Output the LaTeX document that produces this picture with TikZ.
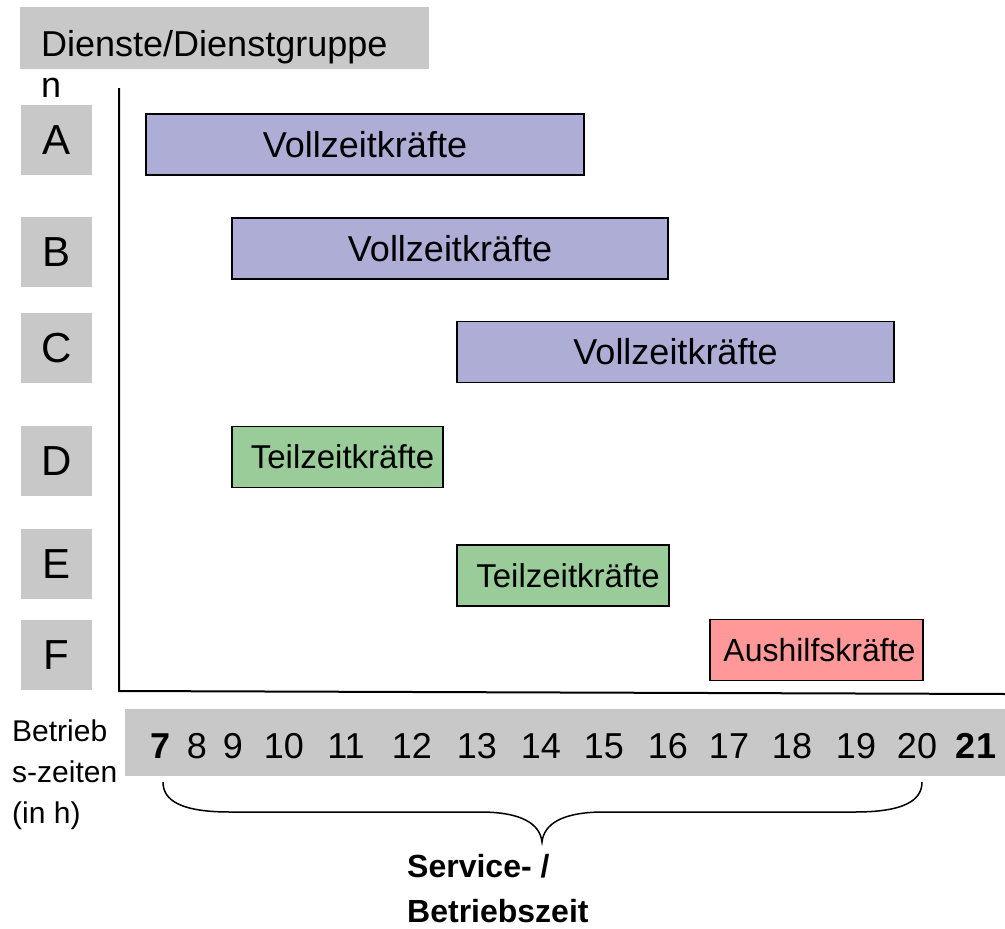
\documentclass[tikz,border=0pt]{standalone}
\usepackage{fontspec}
\setmainfont{Liberation Sans}
\definecolor{hdrgray}{RGB}{200,200,200}
\definecolor{vollblue}{RGB}{173,173,214}
\definecolor{teilgreen}{RGB}{153,204,153}
\definecolor{aushred}{RGB}{255,153,153}
\begin{document}
\begin{tikzpicture}[x=1pt,y=-1pt,
  graybox/.style={fill=hdrgray, draw=none, inner sep=0pt},
  letterbox/.style={graybox, minimum width=71pt, minimum height=70pt, font=\fontsize{42}{48}\selectfont},
  bar/.style={draw=black, line width=1.8pt, inner sep=0pt, minimum height=61pt},
  voll/.style={bar, fill=vollblue, font=\fontsize{36}{40}\selectfont},
  teil/.style={bar, fill=teilgreen, font=\fontsize{33}{38}\selectfont},
  aush/.style={bar, fill=aushred, font=\fontsize{32}{36}\selectfont},
  hour/.style={font=\fontsize{36}{40}\selectfont, inner sep=0pt},
  axis/.style={line width=2pt}]
\useasboundingbox (0,0) rectangle (1005,929);

% header
\node[graybox, minimum width=409pt, minimum height=62pt] (hdr) at (224.5,38) {};
\node[anchor=base west, inner sep=0pt, align=left, font=\fontsize{36}{41}\selectfont] (hdrtext) at (41,97) {Dienste/Dienstgruppe\\n};

% letter boxes
\node[letterbox] (lA) at (56.5,140) {A};
\node[letterbox] (lB) at (56.5,252) {B};
\node[letterbox] (lC) at (56.5,348) {C};
\node[letterbox] (lD) at (56.5,461) {D};
\node[letterbox] (lE) at (56.5,564) {E};
\node[letterbox] (lF) at (56.5,655) {F};

% axes
\coordinate (ytop) at (119,88);
\coordinate (origin) at (119,691);
\coordinate (xend) at (1005,694);
\draw[axis] (ytop) -- (origin) -- (xend);

% bars
\node[voll, minimum width=438pt] (bA) at (365,144.5) {Vollzeitkräfte};
\node[voll, minimum width=436pt] (bB) at (450,248.5) {Vollzeitkräfte};
\node[voll, minimum width=437pt] (bC) at (675.5,352) {Vollzeitkräfte};
\node[teil, minimum width=211pt] (bD) at (337.5,457) {\hspace*{10pt}Teilzeitkräfte};
\node[teil, minimum width=212pt] (bE) at (563,575.5) {\hspace*{10pt}Teilzeitkräfte};
\node[aush, minimum width=213pt] (bF) at (816.5,650) {\hspace*{6pt}Aushilfskräfte};

% time line
\node[graybox, minimum width=880pt, minimum height=67pt] (tl) at (565,742.5) {};
\node[hour, font=\fontsize{36}{40}\selectfont\bfseries] (h7) at (161,746) {7};
\foreach \n/\x in {8/197,9/233,10/284,11/346,12/412,13/477,14/541,15/604,16/668,17/729,18/792,19/856,20/917}
  \node[hour] (h\n) at (\x,746) {\n};
\node[hour, font=\fontsize{36}{40}\selectfont\bfseries] (h21) at (976,746) {21};

\node[anchor=base west, inner sep=0pt, align=left, font=\fontsize{30}{41}\selectfont] (betr) at (12,823) {Betrieb\\s-zeiten\\(in h)};

% brace
\coordinate (brL) at (163,782);
\coordinate (brTip) at (542,842);
\coordinate (brR) at (922,782);
\draw[line width=1.5pt] (brL) .. controls (163,800) and (180,812) .. (230,812)
  -- (480,812) .. controls (522,812) and (540,824) .. (brTip)
  .. controls (544,824) and (562,812) .. (604,812)
  -- (855,812) .. controls (905,812) and (922,800) .. (brR);

\node[anchor=base west, inner sep=0pt, align=left, font=\fontsize{32}{45}\selectfont\bfseries] (svc) at (407,922) {Service- /\\Betriebszeit};
\end{tikzpicture}
\end{document}
